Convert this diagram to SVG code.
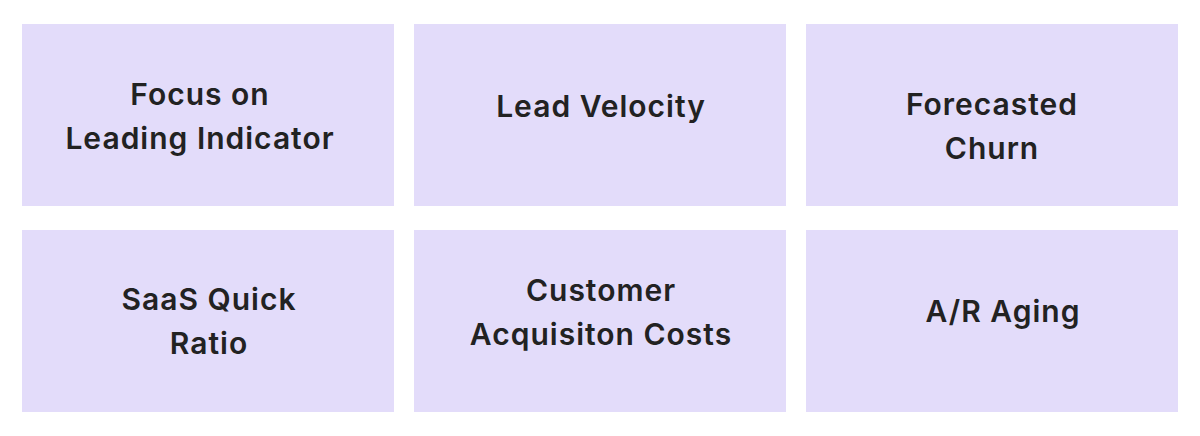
<svg xmlns="http://www.w3.org/2000/svg" width="1200" height="436" viewBox="0 0 1200 436">
<style>
.box{fill:#e3dcfa}
.t{font-family:Inter,"Noto Sans",sans-serif;font-weight:600;font-size:30px;letter-spacing:1px;fill:#222222;text-anchor:middle}
</style>
<rect width="1200" height="436" fill="#ffffff"/>
<g id="n1"><rect class="box" x="22" y="24" width="372" height="182"/><text class="t" x="200" y="105">Focus on</text><text class="t" x="200" y="149">Leading Indicator</text></g>
<g id="n2"><rect class="box" x="414" y="24" width="372" height="182"/><text class="t" x="601" y="117">Lead Velocity</text></g>
<g id="n3"><rect class="box" x="806" y="24" width="372" height="182"/><text class="t" x="992" y="115">Forecasted</text><text class="t" x="992" y="159">Churn</text></g>
<g id="n4"><rect class="box" x="22" y="230" width="372" height="182"/><text class="t" x="209" y="310">SaaS Quick</text><text class="t" x="209" y="354">Ratio</text></g>
<g id="n5"><rect class="box" x="414" y="230" width="372" height="182"/><text class="t" x="601" y="301">Customer</text><text class="t" x="601" y="345">Acquisiton Costs</text></g>
<g id="n6"><rect class="box" x="806" y="230" width="372" height="182"/><text class="t" x="1003" y="322">A/R Aging</text></g>
<g id="connectors"></g>
</svg>
